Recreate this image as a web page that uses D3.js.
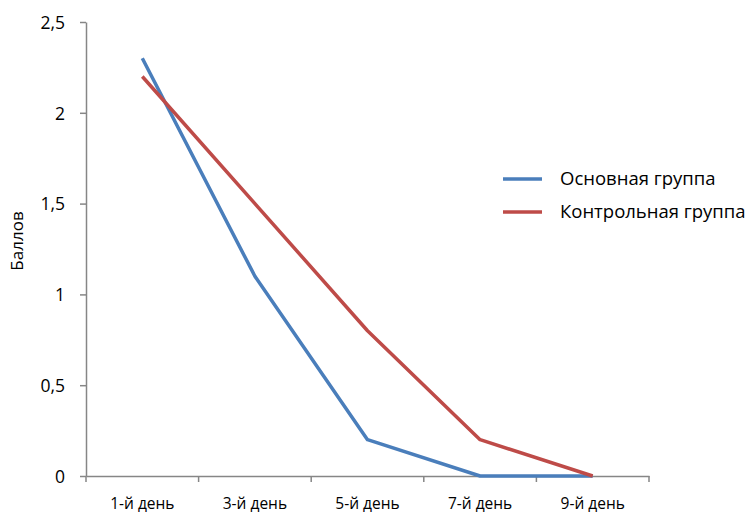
<!DOCTYPE html>
<html><head><meta charset="utf-8">
<script src="https://cdnjs.cloudflare.com/ajax/libs/d3/7.8.5/d3.min.js"></script>
<style>body{margin:0;background:#fff}text{font-family:"Open Sans","Noto Sans",sans-serif;fill:#000}</style>
</head><body><svg id="c" width="752" height="513"></svg>
<script>
const categories = ["1-й день","3-й день","5-й день","7-й день","9-й день"];
const mainGroup = [2.3, 1.1, 0.2, 0, 0];
const controlGroup = [2.2, 1.5, 0.8, 0.2, 0];
const yTicks = [0, 0.5, 1, 1.5, 2, 2.5];
const seriesNames = ["Основная группа", "Контрольная группа"];
const colors = ["#4a7ebb", "#be4b48"];

(function () {
const svg = d3.select("#c");
const mLeft = 86, mRight = 649, mTop = 22, mBottom = 476;
const x = d3.scaleBand().domain(categories).range([mLeft, mRight]);
const y = d3.scaleLinear().domain([0, 2.5]).range([mBottom, mTop]);
const fmt = d => String(d).replace(".", ",");

// y axis
const ya = svg.append("g").attr("transform", `translate(${mLeft},0)`)
  .call(d3.axisLeft(y).tickValues(yTicks).tickSize(6).tickSizeOuter(0).tickFormat(fmt));
ya.select(".domain").attr("stroke", "#868686").attr("stroke-width", 1.5);
ya.selectAll(".tick line").attr("stroke", "#868686").attr("stroke-width", 1.5);
ya.selectAll(".tick text").attr("x", -21).attr("dy", "0.36em").style("font-size", "17.5px").style("font-family", '"Open Sans",sans-serif').attr("fill", "#000");

// x axis
const xa = svg.append("g").attr("transform", `translate(0,${mBottom})`)
  .call(d3.axisBottom(x).tickSize(0).tickSizeOuter(0));
xa.select(".domain").attr("stroke", "#868686").attr("stroke-width", 1.5);
xa.selectAll(".tick text").attr("y", 33).attr("dy", null).style("font-size", "15.5px").style("font-family", '"Open Sans",sans-serif').attr("fill", "#000");
const bounds = categories.map(c => x(c)).concat([x(categories[categories.length-1]) + x.bandwidth()]);
xa.selectAll(".bt").data(bounds).enter().append("line")
  .attr("x1", d => d).attr("x2", d => d).attr("y1", 0).attr("y2", 6)
  .attr("stroke", "#868686").attr("stroke-width", 1.5);

// lines
const line = d3.line().x((d, i) => x(categories[i]) + x.bandwidth()/2).y(d => y(d));
[mainGroup, controlGroup].forEach((s, k) => {
  svg.append("path").attr("d", line(s)).attr("fill", "none")
    .attr("stroke", colors[k]).attr("stroke-width", 3.5).attr("stroke-linejoin", "round");
});

// y title
svg.append("text").attr("transform", "translate(23,241) rotate(-90)")
  .attr("text-anchor", "middle").style("font-size", "17px").text("Баллов");

// legend
seriesNames.forEach((n, k) => {
  const ly = 179 + k * 33;
  svg.append("line").attr("x1", 503).attr("x2", 542).attr("y1", ly).attr("y2", ly)
    .attr("stroke", colors[k]).attr("stroke-width", 3.5);
  svg.append("text").attr("x", 560).attr("y", ly).attr("dy", "0.34em")
    .style("font-size", "18.5px").text(n);
});
})();
</script></body></html>
